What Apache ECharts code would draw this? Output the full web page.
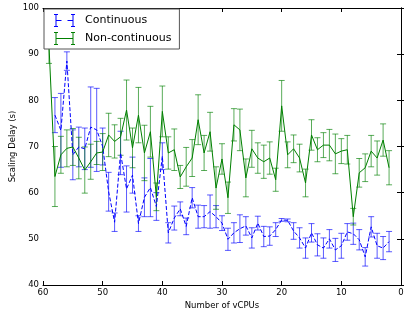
<!DOCTYPE html>
<html>
<head>
<meta charset="utf-8">
<script src="https://cdn.jsdelivr.net/npm/echarts@6/dist/echarts.min.js"></script>
<style>
  html, body { margin: 0; padding: 0; background: #fff; }
  #container { width: 404px; height: 318px; }
</style>
</head>
<body>
<div id="container"></div>
<script>
// number of vCPUs (x), from 59 down to 2
const vcpus = [59, 58, 57, 56, 55, 54, 53, 52, 51, 50, 49, 48, 47, 46, 45, 44, 43, 42, 41, 40,
  39, 38, 37, 36, 35, 34, 33, 32, 31, 30, 29, 28, 27, 26, 25, 24, 23, 22, 21, 20,
  19, 18, 17, 16, 15, 14, 13, 12, 11, 10, 9, 8, 7, 6, 5, 4, 3, 2];

// continuous scaling (null = no point)
const contMean = [null, 76.8, 73.5, 88.5, 68.2, 69.9, 69.5, 74.2, 73.6, 70, 60.2, 53.6, 68.6, 60.8, 63.8, 53.3, 59, 61.1, 57, 67.9,
  51.3, 54.5, 56.5, 52.7, 58.9, 54.8, 54.8, 55.9, 54.8, 53.4, 49.9, 51.3, 52.2, 52.8, 50.2, 53.4, 50.5, 50.6, 52, 54.1,
  54, 51.7, 50.2, 48, 51.3, 48.7, 48, 50, 47.6, 48.5, 51.5, 51.1, 49.8, 46.1, 52.6, 48.5, 48, 49.4];
const contErr = [null, 3.8, 8, 2, 5.4, 4.3, 4.5, 8.7, 9, 4, 4.2, 2, 4.7, 5, 3.9, 1.7, 4.2, 6.3, 3, 2.9,
  2.2, 2.6, 1.5, 1.8, 2.2, 2.5, 2.4, 3.6, 2.4, 1.6, 2.4, 2.2, 3, 2, 2.2, 1.5, 2.2, 2, 1.5, 0.3,
  0.3, 1.8, 2.2, 2.2, 2, 2.4, 2.2, 2, 2.5, 2.7, 1.8, 2.3, 2.2, 2, 2.2, 2.7, 2.5, 2.2];

// non-continuous scaling
const nonMean = [92, 63.5, 68.2, 69.6, 69.9, 67.5, 64.9, 66.7, 68.6, 68.8, 72.5, 71.1, 72.1, 77.9, 69.7, 76.8, 68.6, 73.2, 59.1, 77.6,
  68.6, 69.3, 63.4, 65.6, 67.5, 75.8, 68.6, 73.2, 61, 67.3, 58.9, 74.7, 73.6, 63.2, 69.5, 67.5, 66.7, 67.5, 62.8, 78.8,
  68.2, 69.5, 67.5, 62.1, 72.5, 69.3, 70.3, 70.3, 68.4, 69, 69.3, 54.8, 64.3, 65.4, 69, 67.5, 71.4, 65.4];
const nonErr = [4, 6.5, 4, 4, 4, 4.5, 5, 3.8, 2.5, 4, 4.7, 3.6, 4, 6.5, 4.3, 6, 6, 5.5, 3, 5.5,
  3.5, 4.5, 2.5, 4.2, 4, 5.4, 3.8, 4.2, 4.6, 3.3, 3.4, 3.5, 4.5, 4.1, 4, 3.3, 3.6, 3.5, 2.5, 5.5,
  2.8, 3, 3, 3, 3.3, 2.6, 2.7, 3.4, 4.3, 2.7, 3.1, 1.8, 3.1, 3, 3.4, 3.7, 3.5, 3.7];

const xTicks = [0, 10, 20, 30, 40, 50, 60];
const yTicks = [40, 50, 60, 70, 80, 90, 100];

const BLUE = "#0000ff";
const GREEN = "#008000";
const FONT = "DejaVu Sans";

const iconNon = "path://M0,0H4V1H2.5V6H18.5V1H17V0H21V1H19.5V12H21V13H17V12H18.5V7H2.5V12H4V13H0V12H1.5V1H0Z";
const iconCont = "path://M0,0H4V1H2.5V12H4V13H0V12H1.5V1H0Z" +
  "M17,0H21V1H19.5V12H21V13H17V12H18.5V1H17Z" +
  "M2.5,6H7.5V7H2.5Z M13.5,6H18.5V7H13.5Z";

function linePoints(mean) {
  const out = [];
  vcpus.forEach((x, i) => {
    if (mean[i] != null) out.push([x, mean[i]]);
  });
  return out;
}

function errPoints(mean, err) {
  const out = [];
  vcpus.forEach((x, i) => {
    if (mean[i] != null) out.push([x, mean[i] - err[i], mean[i] + err[i]]);
  });
  return out;
}

function renderErrorBar(color) {
  return function (params, api) {
    const x = api.value(0);
    const top = api.coord([x, api.value(2)]);
    const bot = api.coord([x, api.value(1)]);
    const st = { stroke: color, lineWidth: 1, opacity: 0.65 };
    const cw = 3;
    return {
      type: "group",
      children: [
        { type: "line", shape: { x1: top[0], y1: top[1], x2: bot[0], y2: bot[1] }, style: st },
        { type: "line", shape: { x1: top[0] - cw, y1: top[1], x2: top[0] + cw, y2: top[1] }, style: st },
        { type: "line", shape: { x1: bot[0] - cw, y1: bot[1], x2: bot[0] + cw, y2: bot[1] }, style: st },
      ],
    };
  };
}

const dom = document.getElementById("container");
const myChart = echarts.init(dom, null, { renderer: "canvas" });

const axisLine = { show: true, lineStyle: { color: "#000", width: 1 } };
const tick = { show: true, inside: true, length: 4, lineStyle: { color: "#000" } };

const option = {
  animation: false,
  backgroundColor: "#fff",
  textStyle: { fontFamily: FONT },
  grid: { left: 43, right: 3, top: 8, bottom: 33, containLabel: false, outerBoundsMode: "none" },
  legend: {
    left: 44,
    top: 9,
    orient: "vertical",
    padding: [5, 8, 4, 10],
    itemGap: 5,
    itemWidth: 21,
    itemHeight: 13,
    backgroundColor: "#fff",
    borderColor: "#555",
    borderWidth: 1,
    borderRadius: 0,
    z: 10,
    textStyle: { fontFamily: FONT, fontSize: 11, color: "#000", padding: [0, 0, 0, 5] },
    data: [
      { name: "Continuous", icon: iconCont, itemStyle: { color: BLUE, borderWidth: 0 } },
      { name: "Non-continuous", icon: iconNon, itemStyle: { color: GREEN, borderWidth: 0 } },
    ],
  },
  xAxis: [
    {
      type: "value",
      min: 0,
      max: 60,
      interval: 10,
      inverse: true,
      name: "Number of vCPUs",
      nameLocation: "middle",
      nameGap: 16,
      nameMoveOverlap: false,
      nameTextStyle: { fontFamily: FONT, fontSize: 8.5, color: "#000" },
      axisLine: axisLine,
      axisTick: tick,
      splitLine: { show: false },
      axisLabel: { fontFamily: FONT, fontSize: 8.5, color: "#000", margin: 3,
        customValues: xTicks },
    },
    {
      type: "value",
      position: "top",
      min: 0,
      max: 60,
      interval: 10,
      inverse: true,
      axisLine: axisLine,
      axisTick: tick,
      splitLine: { show: false },
      axisLabel: { show: false },
    },
  ],
  yAxis: [
    {
      type: "value",
      min: 40,
      max: 100,
      interval: 10,
      name: "Scaling Delay (s)",
      nameLocation: "middle",
      nameGap: 26,
      nameMoveOverlap: false,
      nameTextStyle: { fontFamily: FONT, fontSize: 8.5, color: "#000" },
      axisLine: axisLine,
      axisTick: tick,
      splitLine: { show: false },
      axisLabel: { fontFamily: FONT, fontSize: 8.5, color: "#000", margin: 4,
        customValues: yTicks },
    },
    {
      type: "value",
      position: "right",
      min: 40,
      max: 100,
      interval: 10,
      axisLine: axisLine,
      axisTick: tick,
      splitLine: { show: false },
      axisLabel: { show: false },
    },
  ],
  series: [
    {
      name: "Continuous",
      type: "line",
      data: linePoints(contMean),
      symbol: "none",
      color: BLUE,
      lineStyle: { color: BLUE, width: 1, type: [4, 2] },
      z: 3,
    },
    {
      name: "Non-continuous",
      type: "line",
      data: linePoints(nonMean),
      symbol: "none",
      color: GREEN,
      lineStyle: { color: GREEN, width: 1 },
      z: 3,
    },
    {
      name: "Continuous",
      type: "custom",
      renderItem: renderErrorBar(BLUE),
      data: errPoints(contMean, contErr),
      encode: { x: 0, y: [1, 2] },
      color: BLUE,
      z: 2,
    },
    {
      name: "Non-continuous",
      type: "custom",
      renderItem: renderErrorBar(GREEN),
      data: errPoints(nonMean, nonErr),
      encode: { x: 0, y: [1, 2] },
      color: GREEN,
      z: 2,
    },
  ],
};

myChart.setOption(option);
window.addEventListener("resize", myChart.resize);
</script>
</body>
</html>
